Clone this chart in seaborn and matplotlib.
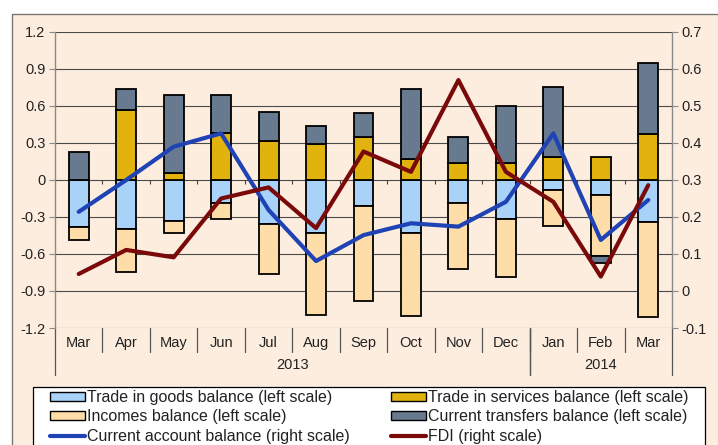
import numpy as np
import matplotlib
matplotlib.use("Agg")
import matplotlib.pyplot as plt
import matplotlib.transforms as mtransforms
from matplotlib.patches import Rectangle, Patch
from matplotlib.lines import Line2D
import seaborn as sns

# --- data ---
months = ["Mar", "Apr", "May", "Jun", "Jul", "Aug", "Sep", "Oct", "Nov", "Dec", "Jan", "Feb", "Mar"]
years = ["2013", "2014"]
year_spans = [(0, 10), (10, 13)]

# left scale
goods = [-0.38, -0.40, -0.33, -0.19, -0.36, -0.43, -0.21, -0.43, -0.19, -0.32, -0.08, -0.12, -0.34]
services = [0.00, 0.57, 0.06, 0.38, 0.32, 0.29, 0.35, 0.17, 0.14, 0.14, 0.19, 0.19, 0.37]
incomes = [-0.11, -0.35, -0.10, -0.13, -0.40, -0.665, -0.77, -0.67, -0.53, -0.47, -0.29, -0.50, -0.77]
transfers = [0.23, 0.17, 0.63, 0.31, 0.23, 0.15, 0.19, 0.57, 0.21, 0.46, 0.56, -0.05, 0.58]

# right scale
current_account = [0.214, 0.30, 0.39, 0.426, 0.219, 0.081, 0.151, 0.183, 0.174, 0.241, 0.426, 0.138, 0.246]
fdi = [0.046, 0.111, 0.091, 0.25, 0.28, 0.17, 0.377, 0.322, 0.57, 0.322, 0.241, 0.039, 0.286]

left_ticks = [-1.2, -0.9, -0.6, -0.3, 0, 0.3, 0.6, 0.9, 1.2]
right_ticks = [-0.1, 0, 0.1, 0.2, 0.3, 0.4, 0.5, 0.6, 0.7]

labels = {
    "goods": "Trade in goods balance (left scale)",
    "services": "Trade in services balance (left scale)",
    "incomes": "Incomes balance (left scale)",
    "transfers": "Current transfers balance (left scale)",
    "ca": "Current account balance (right scale)",
    "fdi": "FDI (right scale)",
}

# --- style ---
sns.set_style("white")
plt.rcParams["font.family"] = ["Liberation Sans", "DejaVu Sans"]
txt = "#222222"
axis_gray = "#8a8a8a"
bg = "#FDEDDF"

c_goods = "#A8D2F8"
c_services = "#E2B20E"
c_incomes = "#FEDDA8"
c_transfers = "#687A8F"
c_ca = "#1F43B5"
c_fdi = "#7A0A0A"

fig = plt.figure(figsize=(7.18, 4.45), dpi=100)
# chart area background and frame
fig.patches.append(Rectangle((12 / 718, -0.01), 1.0, 1 - 14 / 445 + 0.01, transform=fig.transFigure,
                             facecolor=bg, edgecolor="#777777", lw=1.0, zorder=-10))
# legend box
fig.patches.append(Rectangle((33 / 718, -0.01), (705 - 33) / 718, 1 - 387 / 445 + 0.01,
                             transform=fig.transFigure, facecolor="white", edgecolor="black",
                             lw=0.9, zorder=-9))

ax = fig.add_axes([55 / 718, 1 - 328 / 445, (672 - 55) / 718, (328 - 32) / 445])
ax.set_facecolor("none")
x = np.arange(len(months))

# stacked bars, positives and negatives stacked separately
pos_base = np.zeros(len(x))
neg_base = np.zeros(len(x))
for vals, col in [(goods, c_goods), (services, c_services), (incomes, c_incomes), (transfers, c_transfers)]:
    v = np.array(vals)
    bottom = np.where(v >= 0, pos_base, neg_base)
    ax.bar(x, v, bottom=bottom, width=0.42, color=col, edgecolor="black", linewidth=1.3, zorder=3)
    pos_base = pos_base + np.where(v >= 0, v, 0)
    neg_base = neg_base + np.where(v < 0, v, 0)

ax.set_xlim(-0.5, len(x) - 0.5)
ax.set_ylim(-1.2, 1.2)
ax.set_yticks(left_ticks)
ax.set_yticklabels([f"{t:g}" for t in left_ticks])
ax.set_xticks([])
ax.yaxis.grid(True, color="#4a4a4a", lw=0.8, zorder=1)
ax.set_axisbelow(True)
ax.tick_params(axis="y", left=True, direction="out", length=4, width=0.8, color=axis_gray,
               pad=3, labelsize=10.5, labelcolor=txt)
for s in ["top", "right", "bottom"]:
    ax.spines[s].set_visible(False)
ax.spines["left"].set_color(axis_gray)
ax.spines["left"].set_linewidth(1.0)

# small ticks on the zero line at category boundaries
ax.vlines(np.arange(0.5, len(x) - 1, 1), -0.032, 0, color="#444444", lw=0.8, zorder=2)

# right scale with the two lines
ax2 = ax.twinx()
sns.lineplot(x=x, y=current_account, ax=ax2, color=c_ca, lw=3.0, zorder=5)
sns.lineplot(x=x, y=fdi, ax=ax2, color=c_fdi, lw=3.0, zorder=6)
ax2.set_ylim(-0.1, 0.7)
ax2.set_yticks(right_ticks)
ax2.set_yticklabels([f"{t:g}" for t in right_ticks])
ax2.tick_params(axis="y", right=True, direction="out", length=4, width=0.8, color=axis_gray,
                pad=3, labelsize=10.5, labelcolor=txt)
for s in ["top", "left", "bottom"]:
    ax2.spines[s].set_visible(False)
ax2.spines["right"].set_color(axis_gray)
ax2.spines["right"].set_linewidth(1.0)
ax2.set_xlim(-0.5, len(x) - 0.5)

# category axis: months, separators and years
trans = mtransforms.blended_transform_factory(ax.transData, ax.transAxes)
for i, m in enumerate(months):
    ax.text(i, -0.051, m, transform=trans, ha="center", va="center", fontsize=10.5, color=txt)
for b in np.arange(0.5, len(x) - 1, 1):
    ax.plot([b, b], [0, -0.081], transform=trans, color="#555555", lw=0.9, clip_on=False)
for (a, b), yr in zip(year_spans, years):
    ax.text((a + b - 1) / 2, -0.125, yr, transform=trans, ha="center", va="center", fontsize=10.5, color=txt)
    for edge in (a - 0.5, b - 0.5):
        ax.plot([edge, edge], [0, -0.159], transform=trans, color="#555555", lw=0.9, clip_on=False)

# legend (frame drawn above as a rectangle)
def box(c):
    return Patch(facecolor=c, edgecolor="black", linewidth=1.0)

handles = [box(c_goods), box(c_incomes), Line2D([], [], color=c_ca, lw=3.0),
           box(c_services), box(c_transfers), Line2D([], [], color=c_fdi, lw=3.0)]
names = [labels["goods"], labels["incomes"], labels["ca"],
         labels["services"], labels["transfers"], labels["fdi"]]
leg = fig.legend(handles, names, loc="upper left", bbox_to_anchor=(50 / 718, 1 - 390 / 445),
                 ncol=2, frameon=False, fontsize=11.5, handlelength=2.2,
                 handleheight=0.45, handletextpad=0.1, labelspacing=0.27, columnspacing=2.6,
                 borderpad=0.0, borderaxespad=0)
for t in leg.get_texts():
    t.set_color(txt)

fig.savefig("out.png", dpi=100, facecolor="white")
